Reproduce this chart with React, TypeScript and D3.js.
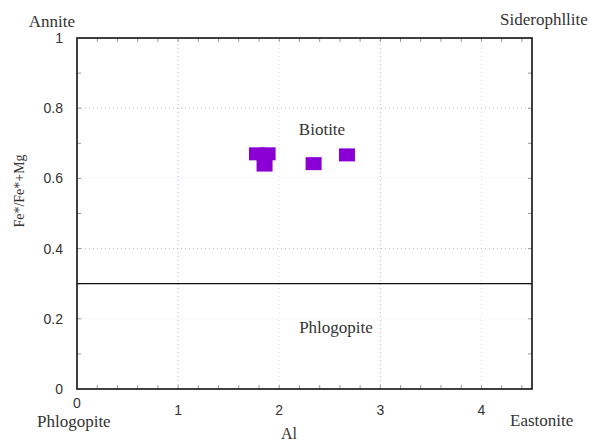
import React from "react";
import * as d3 from "d3";

// mineral analyses (Al vs Fe*/(Fe*+Mg))
const alValues = [1.78, 1.885, 1.855, 2.34, 2.67];
const feRatio = [0.67, 0.67, 0.638, 0.642, 0.667];

const xTicks = [0, 1, 2, 3, 4];
const yTicks = [0, 0.2, 0.4, 0.6, 0.8, 1];
const xMinor = d3.range(0.2, 4.5, 0.2);
const yMinor = d3.range(0.1, 1, 0.1);
const dividerY = 0.3;

const W = 590;
const H = 443;
const margin = { left: 77, right: 58, top: 38, bottom: 54 };

const App = () => {
  const x = d3.scaleLinear().domain([0, 4.5]).range([margin.left, W - margin.right]);
  const y = d3.scaleLinear().domain([0, 1]).range([H - margin.bottom, margin.top]);
  const [x0, x1] = x.range();
  const [y0, y1] = y.range();
  const serif = "'Liberation Serif', 'Times New Roman', serif";
  const sans = "'Liberation Sans', Arial, sans-serif";
  const sq = { w: 16, h: 13 };

  return (
    <svg width={W} height={H} style={{ position: "absolute", left: 0, top: 0 }}>
      <rect width={W} height={H} fill="#fff" />
      {/* grid */}
      {xTicks.slice(1).map((t) => (
        <line key={"gx" + t} x1={x(t)} x2={x(t)} y1={y0} y2={y1} stroke={t % 2 ? "#b4b4ee" : "#e2e2f6"} strokeDasharray="1,3" />
      ))}
      {yTicks.slice(1, -1).map((t) => (
        <line key={"gy" + t} x1={x0} x2={x1} y1={y(t)} y2={y(t)} stroke={Math.round(t * 10) % 4 === 0 ? "#b4b4ee" : "#e2e2f6"} strokeDasharray="1,3" />
      ))}
      {/* minor ticks */}
      {xMinor.map((t) => (
        <g key={"mx" + t} stroke="#999">
          <line x1={x(t)} x2={x(t)} y1={y0} y2={y0 - 4} />
          <line x1={x(t)} x2={x(t)} y1={y1} y2={y1 + 4} />
        </g>
      ))}
      {yMinor.map((t) => (
        <g key={"my" + t} stroke="#999">
          <line x1={x0} x2={x0 + 4} y1={y(t)} y2={y(t)} />
          <line x1={x1} x2={x1 - 4} y1={y(t)} y2={y(t)} />
        </g>
      ))}
      {/* divider */}
      <line x1={x0} x2={x1} y1={y(dividerY)} y2={y(dividerY)} stroke="#111" strokeWidth={1.3} />
      {/* frame */}
      <rect x={x0} y={y1} width={x1 - x0} height={y0 - y1} fill="none" stroke="#111" strokeWidth={1.6} />
      {/* tick labels */}
      {xTicks.map((t) => (
        <text key={"tx" + t} x={x(t)} y={t === 0 ? 408 : 415} textAnchor="middle" fontFamily={sans} fontSize={14} fill="#333">
          {t}
        </text>
      ))}
      {yTicks.map((t) => (
        <text key={"ty" + t} x={63} y={y(t) + 5} textAnchor="end" fontFamily={sans} fontSize={14} fill="#333">
          {t}
        </text>
      ))}
      {/* points */}
      {alValues.map((a, i) => (
        <rect key={"p" + i} x={x(a) - sq.w / 2} y={y(feRatio[i]) - sq.h / 2} width={sq.w} height={sq.h} fill="#8a00d4" />
      ))}
      {/* labels */}
      <g fontFamily={serif} fontSize={17} fill="#333">
        <text x={75} y={27} textAnchor="end">Annite</text>
        <text x={500} y={25}>Siderophllite</text>
        <text x={37} y={427}>Phlogopite</text>
        <text x={510} y={426}>Eastonite</text>
        <text x={289} y={439} textAnchor="middle" fontSize={16}>Al</text>
        <text x={322} y={135} textAnchor="middle">Biotite</text>
        <text x={336} y={333} textAnchor="middle">Phlogopite</text>
        <text transform="translate(24,191) rotate(-90)" textAnchor="middle" fontSize={14}>Fe*/Fe*+Mg</text>
      </g>
    </svg>
  );
};

export default App;
